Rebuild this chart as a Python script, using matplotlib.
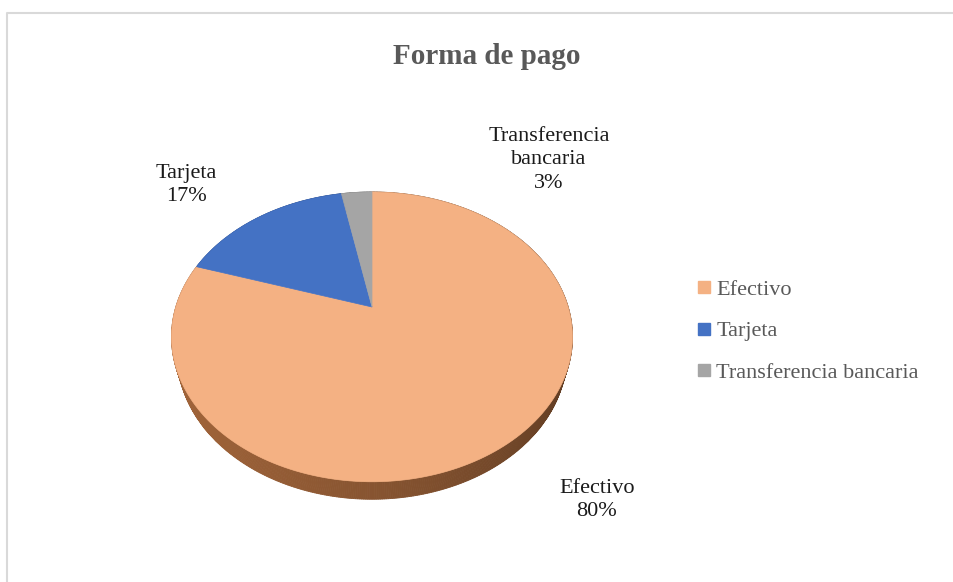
import numpy as np
import matplotlib
matplotlib.use("Agg")
import matplotlib.pyplot as plt
from matplotlib.patches import Polygon
from matplotlib.lines import Line2D

# data
categories = ["Efectivo", "Tarjeta", "Transferencia bancaria"]
values = [80, 17, 3]
point_labels = ["Efectivo\n80%", "Tarjeta\n17%", "Transferencia\nbancaria\n3%"]
colors = ["#F4B183", "#4472C4", "#A5A5A5"]
side_colors = [(0.53, 0.33, 0.19), (0.18, 0.29, 0.50), (0.40, 0.40, 0.40)]

plt.rcParams['font.family'] = ['Liberation Serif', 'DejaVu Serif']

W, H = 954, 582
fig = plt.figure(figsize=(W / 100, H / 100), dpi=100)
ax = fig.add_axes([0, 0, 1, 1])
ax.set_xlim(0, W)
ax.set_ylim(H, 0)
ax.axis("off")

# chart border (light gray frame, cut off at right / bottom)
ax.plot([7, 7, W + 5], [H + 5, 13, 13], color="#D9D9D9", lw=1.5)

# 3D perspective projection of a unit disk
elev = np.radians(45)
dist = 3.43
focal = 673
cx, cy = 372, 307
thick = 0.14


def proj(x, y, z):
    depth = dist + y * np.cos(elev) - z * np.sin(elev)
    sx = cx + focal * x / depth
    sy = cy - focal * (y * np.sin(elev) + z * np.cos(elev)) / depth
    return sx, sy


# slice angles, clockwise from 12 o'clock
total = float(sum(values))
bounds = np.concatenate([[0], np.cumsum(values) / total * 2 * np.pi])


def slice_of(phi):
    phi = phi % (2 * np.pi)
    for i in range(len(values)):
        if bounds[i] <= phi < bounds[i + 1]:
            return i
    return len(values) - 1


# side wall, drawn far to near
n = 720
phis = np.linspace(0, 2 * np.pi, n + 1)
quads = []
for k in range(n):
    p0, p1 = phis[k], phis[k + 1]
    pm = 0.5 * (p0 + p1)
    ym = np.cos(pm)
    i = slice_of(pm)
    x0, y0 = np.sin(p0), np.cos(p0)
    x1, y1 = np.sin(p1), np.cos(p1)
    pts = [proj(x0, y0, 0), proj(x1, y1, 0), proj(x1, y1, -thick), proj(x0, y0, -thick)]
    shade = 1.0 - 0.25 * np.sin(pm) - 0.08 * (1 + np.cos(pm))
    c = np.clip(np.array(side_colors[i]) * shade, 0, 1)
    quads.append((ym, pts, c))
quads.sort(key=lambda q: -q[0])
for _, pts, c in quads:
    ax.add_patch(Polygon(pts, closed=True, facecolor=c, edgecolor=c, lw=0.6))

# top faces
for i in range(len(values)):
    arc = np.linspace(bounds[i], bounds[i + 1], 200)
    pts = [proj(0, 0, 0)] + [proj(np.sin(a), np.cos(a), 0) for a in arc]
    ax.add_patch(Polygon(pts, closed=True, facecolor=colors[i], edgecolor=colors[i], lw=0.5))

# title
ax.text(487, 57, "Forma de pago", ha="center", va="center", fontsize=21,
        fontweight="bold", color="#595959")

# data labels
label_pos = [(597, 500), (186, 185), (549, 160)]
for (lx, ly), txt in zip(label_pos, point_labels):
    ax.text(lx, ly, txt, ha="center", va="center", fontsize=16, color="#1A1A1A",
            linespacing=1.3)

# legend
handles = [Line2D([], [], marker="s", linestyle="none", markersize=8,
                  markerfacecolor=c, markeredgecolor=c) for c in colors]
leg = ax.legend(handles, categories, loc="center left",
                bbox_to_anchor=(693 / W, 1 - 331 / H), bbox_transform=fig.transFigure,
                frameon=False, fontsize=16, labelspacing=0.95, handletextpad=0.05,
                handlelength=1.0, borderaxespad=0, borderpad=0)
for t in leg.get_texts():
    t.set_color("#595959")

fig.savefig("out.png", dpi=100)
